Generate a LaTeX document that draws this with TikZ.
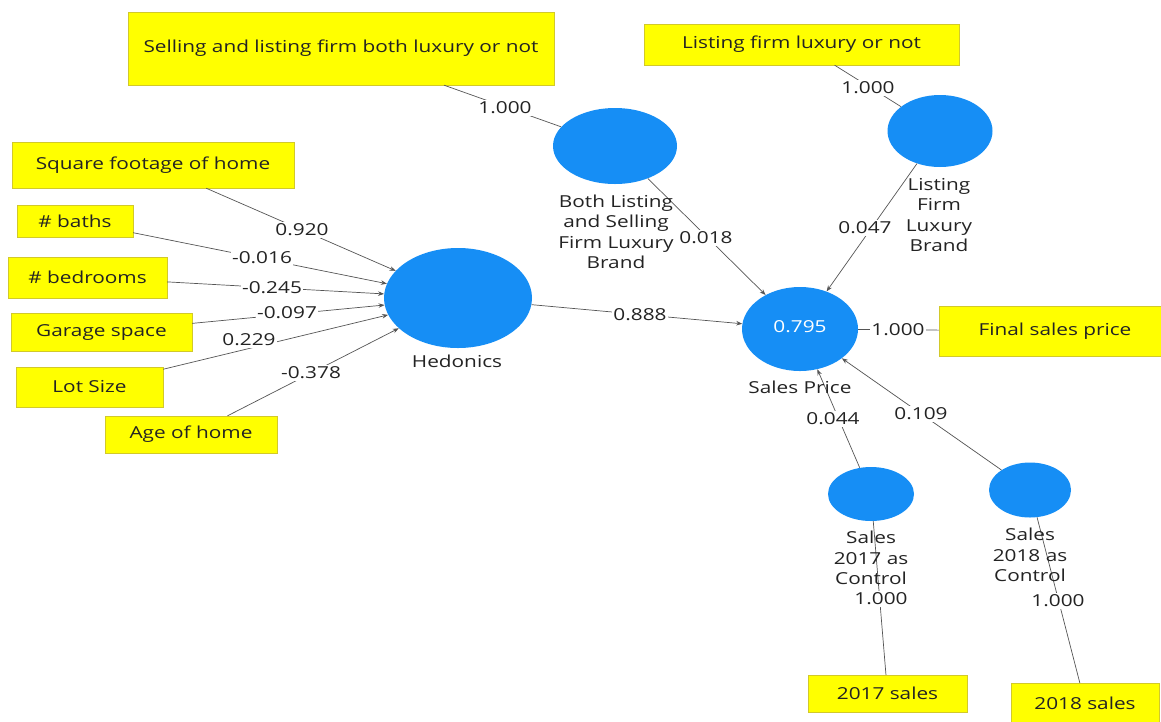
\documentclass[tikz,border=0pt]{standalone}
\usepackage{fontspec}
\setmainfont{Open Sans}[FakeStretch=1.26]
\usetikzlibrary{shapes.geometric,arrows.meta}
\definecolor{lvblue}{RGB}{22,142,245}
\definecolor{indyel}{RGB}{255,255,0}
\definecolor{lncol}{RGB}{85,85,85}
\definecolor{txt}{RGB}{35,35,35}
\begin{document}
\begin{tikzpicture}[x=1pt,y=-1pt,
  every node/.style={font=\fontsize{16.5}{20.5}\selectfont, text=txt},
  ind/.style={fill=indyel, draw=yellow!80!black, line width=0.4pt, inner sep=0pt},
  lv/.style={ellipse, fill=lvblue, inner sep=0pt},
  lvlab/.style={align=center, inner sep=0pt},
  wt/.style={fill=white, inner sep=1.5pt},
  link/.style={draw=lncol, line width=0.7pt},
  arr/.style={link, -{Stealth[length=6pt,width=4.5pt]}},
]
\useasboundingbox[fill=white] (0,0) rectangle (1161,721);

% indicator boxes
\node[ind, minimum width=426, minimum height=73] (sel) at (341,48.5) {Selling and listing firm both luxury or not};
\node[ind, minimum width=315, minimum height=41] (lst) at (801.5,44.5) {Listing firm luxury or not};
\node[ind, minimum width=282, minimum height=46] (sqft) at (153,165) {Square footage of home};
\node[ind, minimum width=116, minimum height=32] (bath) at (75,221) {\# baths};
\node[ind, minimum width=159, minimum height=41] (bed) at (87.5,277.5) {\# bedrooms};
\node[ind, minimum width=181, minimum height=38] (gar) at (101.5,332) {Garage space};
\node[ind, minimum width=147, minimum height=40] (lot) at (89.5,387) {Lot Size};
\node[ind, minimum width=172, minimum height=37] (age) at (191,434.5) {Age of home};
\node[ind, minimum width=224, minimum height=50] (fin) at (1051,331) {\hspace{8pt}Final sales price};
\node[ind, minimum width=159, minimum height=37] (y17) at (887.5,693.5) {2017 sales};
\node[ind, minimum width=148, minimum height=40] (y18) at (1085,703) {2018 sales};

% latent variables
\node[lv, minimum width=148, minimum height=100] (hed) at (458,298) {};
\node[lv, minimum width=124, minimum height=76] (both) at (615,146) {};
\node[lv, minimum width=105, minimum height=72] (lf) at (940,131) {};
\node[lv, minimum width=116, minimum height=84] (sp) at (800,329) {};
\node[lv, minimum width=86, minimum height=54] (s17) at (871,494) {};
\node[lv, minimum width=82, minimum height=55] (s18) at (1030,490) {};

% connectors
\draw[arr] (sqft) -- (hed);
\draw[arr] (bath) -- (hed);
\draw[arr] (bed) -- (hed);
\draw[arr] (gar) -- (hed);
\draw[arr] (lot) -- (hed);
\draw[arr] (age) -- (hed);
\draw[link] (sel) -- (both);
\draw[link] (lst) -- (lf);
\draw[arr] (hed) -- (sp);
\draw[arr] (both) -- (sp);
\draw[arr] (lf) -- (sp);
\draw[arr] (s17) -- (sp);
\draw[arr] (s18) -- (sp);
\draw[link] (sp) -- (fin);
\draw[link] (s17) -- (y17);
\draw[link] (s18) -- (y18);

% LV labels
\node[lvlab] (hedl) at (457,361) {Hedonics};
\node[lvlab] (bothl) at (616,232) {Both Listing\\and Selling\\Firm Luxury\\Brand};
\node[lvlab] (lfl) at (939,215) {Listing\\Firm\\Luxury\\Brand};
\node[lvlab] (spl) at (800,387) {Sales Price};
\node[lvlab, text=white] (r2) at (800,327) {0.795};
\node[lvlab] (s17l) at (871,558) {Sales\\2017 as\\Control};
\node[lvlab] (s18l) at (1030,555) {Sales\\2018 as\\Control};

% weights
\node[wt] (w1) at (505,108) {1.000};
\node[wt] (w2) at (868,88) {1.000};
\node[wt] (w3) at (706,238) {0.018};
\node[wt] (w4) at (865,228) {0.047};
\node[wt] (w5) at (302,230) {0.920};
\node[wt] (w6) at (262,258) {-0.016};
\node[wt] (w7) at (272,288) {-0.245};
\node[wt] (w8) at (287,313) {-0.097};
\node[wt] (w9) at (249,340) {0.229};
\node[wt] (w10) at (311,373) {-0.378};
\node[wt] (w11) at (640,315) {0.888};
\node[wt] (w12) at (898,330) {1.000};
\node[wt] (w13) at (833,419) {0.044};
\node[wt] (w14) at (921,414) {0.109};
\node[wt] (w15) at (881,599) {1.000};
\node[wt] (w16) at (1058,601) {1.000};
\end{tikzpicture}
\end{document}
